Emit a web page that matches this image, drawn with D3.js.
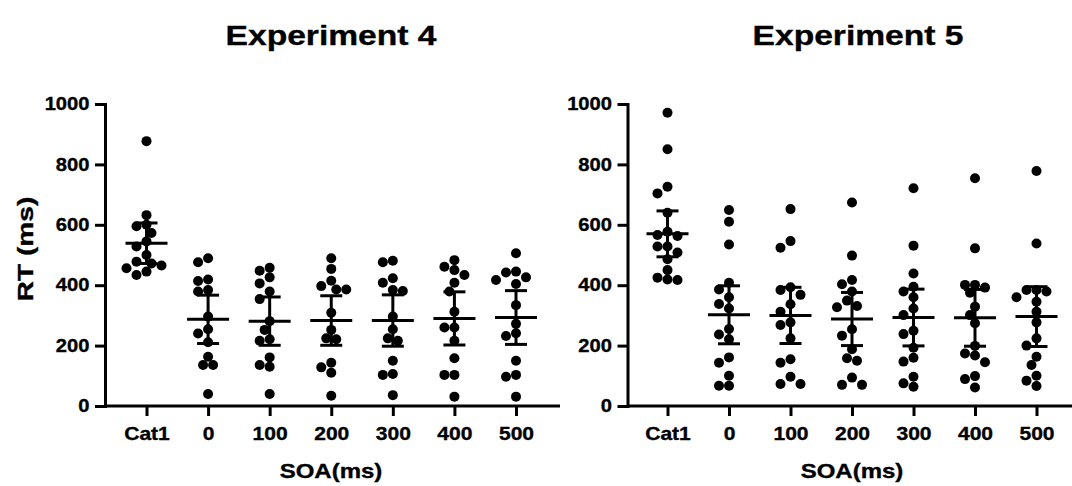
<!DOCTYPE html>
<html>
<head>
<meta charset="utf-8">
<script src="https://cdn.jsdelivr.net/npm/d3@7"></script>
<style>
  html, body { margin: 0; padding: 0; background: #fff; }
  svg { display: block; }
  text { font-family: "Liberation Sans", Arial, sans-serif; font-weight: bold; fill: #000; stroke: #000; stroke-width: 0.35px; }
</style>
</head>
<body>
<svg id="chart" width="1072" height="486"></svg>
<script>
// ---------- data ----------
const categories = ["Cat1", "0", "100", "200", "300", "400", "500"];
const yTicks = [0, 200, 400, 600, 800, 1000];
const titles = ["Experiment 4", "Experiment 5"];
const xTitle = "SOA(ms)";
const yTitle = "RT (ms)";

// individual participant RTs (ms), one array per category
const exp4RT = [
  [877, 632, 600, 595, 573, 545, 528, 500, 478, 472, 465, 456, 445, 434],
  [489, 476, 419, 414, 384, 379, 296, 254, 240, 211, 163, 136, 136, 40],
  [458, 448, 426, 406, 379, 354, 281, 252, 221, 216, 161, 136, 130, 40],
  [489, 454, 415, 397, 386, 386, 309, 252, 224, 221, 143, 128, 110, 34],
  [481, 476, 423, 408, 384, 381, 296, 254, 224, 216, 150, 106, 103, 36],
  [483, 461, 450, 434, 408, 379, 312, 260, 260, 216, 158, 103, 103, 31],
  [506, 445, 442, 426, 417, 404, 334, 272, 241, 232, 150, 103, 97, 31]
];
const exp4Mean = [539, 287, 281, 283, 283, 290, 293];
const exp4SD   = [67, 80, 80, 82, 85, 88, 89];

const exp5RT = [
  [971, 850, 726, 704, 640, 577, 566, 563, 528, 528, 508, 486, 450, 425, 419, 417],
  [649, 610, 535, 408, 386, 360, 338, 323, 255, 237, 221, 161, 143, 100, 67, 67],
  [652, 546, 524, 393, 384, 368, 337, 312, 277, 268, 224, 155, 143, 97, 73, 73],
  [674, 498, 417, 403, 379, 349, 331, 327, 254, 233, 188, 158, 150, 94, 70, 70],
  [721, 531, 439, 395, 379, 360, 323, 301, 249, 238, 193, 160, 147, 97, 75, 64],
  [754, 522, 401, 401, 392, 375, 329, 301, 274, 199, 174, 167, 145, 99, 89, 61],
  [778, 538, 384, 384, 379, 360, 345, 312, 277, 224, 200, 163, 136, 100, 84, 66]
];
const exp5Mean = [570, 302, 300, 288, 293, 292, 296];
const exp5SD   = [76, 96, 93, 88, 94, 94, 99];

// ---------- layout ----------
const svg = d3.select("#chart");
const yTop = 104, yBottom = 406;
const panels = [
  { title: titles[0], rt: exp4RT, mean: exp4Mean, sd: exp4SD,
    axisX: 105, axisEnd: 560, firstX: 146.5, lastX: 516, titleX: 331, xTitleX: 331, showY: true },
  { title: titles[1], rt: exp5RT, mean: exp5Mean, sd: exp5SD,
    axisX: 627.5, axisEnd: 1072, firstX: 667.5, lastX: 1036.5, titleX: 858, xTitleX: 852, showY: false }
];

const y = d3.scaleLinear().domain([0, 1000]).range([yBottom, yTop]);
const R = 5;

function swarm(values, cx) {
  // place dots column-wise (Prism-like scatter): sort by value, nudge sideways to avoid overlap
  const items = values.map(v => ({ v, py: y(v) })).sort((a, b) => a.py - b.py);
  const placed = [];
  const step = 5, minD = 9.2;
  items.forEach(it => {
    for (let k = 0; k < 40; k++) {
      const off = (k % 2 === 0 ? 1 : -1) * Math.ceil(k / 2) * step;
      const px = cx + off;
      if (placed.every(p => (p.px - px) ** 2 + (p.py - it.py) ** 2 >= minD * minD)) {
        it.px = px; placed.push(it); break;
      }
    }
  });
  return placed;
}

panels.forEach(P => {
  const g = svg.append("g");
  const x = d3.scalePoint().domain(categories).range([P.firstX, P.lastX]);

  // title
  g.append("text")
    .attr("transform", `translate(${P.titleX},45) scale(1.2,1)`)
    .attr("text-anchor", "middle")
    .style("font-size", "28px")
    .text(P.title);

  // y axis
  const ya = g.append("g").attr("transform", `translate(${P.axisX},0)`)
    .call(d3.axisLeft(y).tickValues(yTicks).tickFormat(d3.format("d")).tickSize(10).tickSizeOuter(0).tickPadding(0));
  ya.select(".domain").attr("stroke", "#000").attr("stroke-width", 3).attr("stroke-linecap", "square");
  ya.selectAll(".tick line").attr("stroke", "#000").attr("stroke-width", 3);
  ya.selectAll(".tick text")
    .attr("x", -15.5 / 1.12)
    .attr("transform", "scale(1.12,1)")
    .style("font-size", "18px")
    .style("font-family", "'Liberation Sans', Arial, sans-serif");

  // x axis
  const xa = g.append("g").attr("transform", `translate(0,${yBottom})`)
    .call(d3.axisBottom(x).tickSize(10).tickSizeOuter(0));
  xa.select(".domain").remove();
  xa.selectAll(".tick line").attr("stroke", "#000").attr("stroke-width", 3);
  xa.selectAll(".tick text")
    .attr("y", 34).attr("dy", 0)
    .attr("transform", "scale(1.17,1)")
    .style("font-size", "18px")
    .style("font-family", "'Liberation Sans', Arial, sans-serif");
  g.append("line")
    .attr("x1", P.axisX).attr("x2", P.axisEnd)
    .attr("y1", yBottom).attr("y2", yBottom)
    .attr("stroke", "#000").attr("stroke-width", 3);

  // x title
  g.append("text")
    .attr("transform", `translate(${P.xTitleX},478) scale(1.2,1)`)
    .attr("text-anchor", "middle")
    .style("font-size", "20px")
    .text(xTitle);

  if (P.showY) {
    g.append("text")
      .attr("transform", `translate(33,${(yTop + yBottom) / 2 - 6}) rotate(-90) scale(1.28,1)`)
      .attr("text-anchor", "middle")
      .style("font-size", "22px")
      .text(yTitle);
  }

  // dots
  categories.forEach((c, i) => {
    const pts = swarm(P.rt[i], x(c));
    g.append("g").selectAll("circle").data(pts).join("circle")
      .attr("cx", d => d.px).attr("cy", d => d.py).attr("r", R).attr("fill", "#000");
  });

  // mean and SD bars
  categories.forEach((c, i) => {
    const cx = x(c), m = P.mean[i], s = P.sd[i];
    const eg = g.append("g").attr("stroke", "#000").attr("stroke-width", 3);
    eg.append("line").attr("x1", cx).attr("x2", cx).attr("y1", y(m + s)).attr("y2", y(m - s));
    eg.append("line").attr("x1", cx - 11).attr("x2", cx + 11).attr("y1", y(m + s)).attr("y2", y(m + s));
    eg.append("line").attr("x1", cx - 11).attr("x2", cx + 11).attr("y1", y(m - s)).attr("y2", y(m - s));
    eg.append("line").attr("x1", cx - 21).attr("x2", cx + 21).attr("y1", y(m)).attr("y2", y(m));
  });
});
</script>
</body>
</html>
